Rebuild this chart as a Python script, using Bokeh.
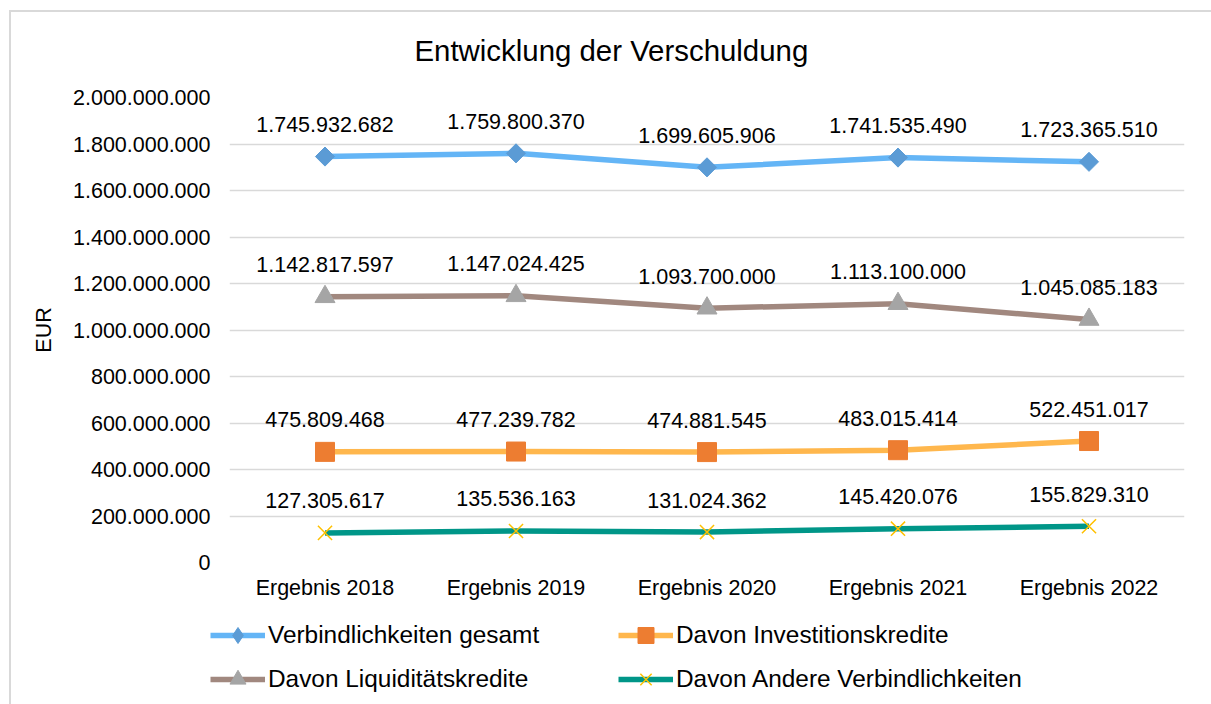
import math
from bokeh.plotting import figure
from bokeh.layouts import column
from bokeh.models import (FactorRange, Range1d, FixedTicker, Legend, LegendItem,
                          ColumnDataSource, Title)
from bokeh.core.properties import value
from bokeh.embed import file_html
from bokeh.resources import INLINE

categories = ["Ergebnis 2018", "Ergebnis 2019", "Ergebnis 2020", "Ergebnis 2021", "Ergebnis 2022"]
gesamt = [1745932682, 1759800370, 1699605906, 1741535490, 1723365510]
investition = [475809468, 477239782, 474881545, 483015414, 522451017]
liquiditaet = [1142817597, 1147024425, 1093700000, 1113100000, 1045085183]
andere = [127305617, 135536163, 131024362, 145420076, 155829310]
y_ticks = [0, 200000000, 400000000, 600000000, 800000000, 1000000000,
           1200000000, 1400000000, 1600000000, 1800000000, 2000000000]

title_text = "Entwicklung der Verschuldung"
y_label = "EUR"
names = ["Verbindlichkeiten gesamt", "Davon Investitionskredite",
         "Davon Liquiditätskredite", "Davon Andere Verbindlichkeiten"]

FONT = "Liberation Sans"
FS = "21.5px"


def fmt(v):
    return f"{v:,}".replace(",", ".")


p = figure(width=1211, height=602, x_range=FactorRange(*categories, range_padding=0),
           y_range=Range1d(0, 2000000000), output_backend="svg", toolbar_location=None,
           min_border_left=229, min_border_right=27, min_border_top=97, min_border_bottom=40)
p.x_range.factor_padding = 0
p.outline_line_color = None
p.background_fill_color = "white"
p.border_fill_color = None

# title
p.add_layout(Title(text=title_text, align="left", offset=185, standoff=62,
                   text_font=FONT, text_font_size="29.4px", text_font_style="normal",
                   text_color="#000000"), "above")

# axes
p.yaxis.ticker = FixedTicker(ticks=y_ticks)
p.yaxis.major_label_overrides = {t: fmt(t) for t in y_ticks}
p.yaxis.axis_line_color = None
p.yaxis.major_tick_line_color = None
p.yaxis.minor_tick_line_color = None
p.yaxis.major_tick_out = 0
p.yaxis.major_tick_in = 0
p.yaxis.major_label_standoff = 19
p.yaxis.major_label_text_font = FONT
p.yaxis.major_label_text_font_size = FS
p.yaxis.major_label_text_color = "#000000"
p.yaxis.axis_label = y_label
p.yaxis.axis_label_text_font = FONT
p.yaxis.axis_label_text_font_size = FS
p.yaxis.axis_label_text_font_style = "normal"
p.yaxis.axis_label_text_color = "#000000"
p.yaxis.axis_label_standoff = 14

p.xaxis.axis_line_color = None
p.xaxis.major_tick_line_color = None
p.xaxis.minor_tick_line_color = None
p.xaxis.major_label_standoff = 7
p.xaxis.major_label_text_font = FONT
p.xaxis.major_label_text_font_size = FS
p.xaxis.major_label_text_color = "#000000"

p.xgrid.grid_line_color = None
p.ygrid.grid_line_color = "#D9D9D9"
p.ygrid.grid_line_width = 1.5

# (values, line colour, marker, legend marker, marker colour, marker size, marker angle, name)
series = [
    (gesamt, "#64B5F6", "square", "diamond", "#5B9BD5", 13.5, math.pi / 4, names[0]),
    (liquiditaet, "#A1887F", "triangle", "triangle", "#A5A5A5", 20, 0.0, names[2]),
    (investition, "#FFB74D", "square", "square", "#ED7D31", 19, 0.0, names[1]),
    (andere, "#009688", "x", "x", "#FFC000", 20, 0.0, names[3]),
]

# legend-only figure below the chart
pl = figure(width=1211, height=102, x_range=Range1d(0, 1), y_range=Range1d(0, 1),
            output_backend="svg", toolbar_location=None,
            min_border_left=0, min_border_right=0, min_border_top=0, min_border_bottom=0)
pl.axis.visible = False
pl.grid.visible = False
pl.outline_line_color = None
pl.background_fill_color = None
pl.border_fill_color = None

unaligned = "frame_align" in pl.properties()
if unaligned:
    pl.frame_align = False
    p.frame_align = False
leg_x = 210 if unaligned else 0

NAN = float("nan")
items = {}
for vals, lcol, marker, lmarker, mcol, msize, mang, name in series:
    src = ColumnDataSource(dict(x=categories, y=vals, lab=[fmt(v) for v in vals]))
    p.line("x", "y", source=src, line_color=lcol, line_width=5.5)
    if marker == "x":
        p.scatter("x", "y", source=src, marker="x", size=msize, line_color=mcol,
                  line_width=1.5)
    else:
        p.scatter("x", "y", source=src, marker=marker, size=msize, angle=mang,
                  fill_color=mcol, line_color=mcol)
    p.text("x", "y", text="lab", source=src, y_offset=-32, text_align="center",
           text_baseline="middle", text_font=value(FONT), text_font_size=FS,
           text_color="#000000")
    # legend entries: glyphs with the same styles and no visible point
    lr = pl.line(x=[NAN], y=[NAN], line_color=lcol, line_width=5.5)
    if lmarker == "x":
        mr = pl.scatter(x=[NAN], y=[NAN], marker="x", size=msize, line_color=mcol,
                        line_width=1.5)
    else:
        mr = pl.scatter(x=[NAN], y=[NAN], marker=lmarker, size=msize,
                        fill_color=mcol, line_color=mcol)
    items[name] = LegendItem(label=name, renderers=[lr, mr])

for row, ypos in ((names[0:2], 49), (names[2:4], 5)):
    legend = Legend(items=[items[n] for n in row], orientation="horizontal",
                    location=(leg_x, ypos), padding=0, margin=0, spacing=0,
                    glyph_width=55, glyph_height=40, label_height=40, label_width=350,
                    label_standoff=3, border_line_color=None, background_fill_alpha=0,
                    label_text_font=FONT, label_text_font_size="24.4px",
                    label_text_color="#000000")
    pl.add_layout(legend, "center")

layout = column(p, pl, spacing=0)
layout.styles = {"box-shadow": "inset 9px 10px 0 0 #FFFFFF, inset 11px 12px 0 0 #D9D9D9",
                 "background-color": "white"}

open("out.html", "w").write(file_html(layout, INLINE))
